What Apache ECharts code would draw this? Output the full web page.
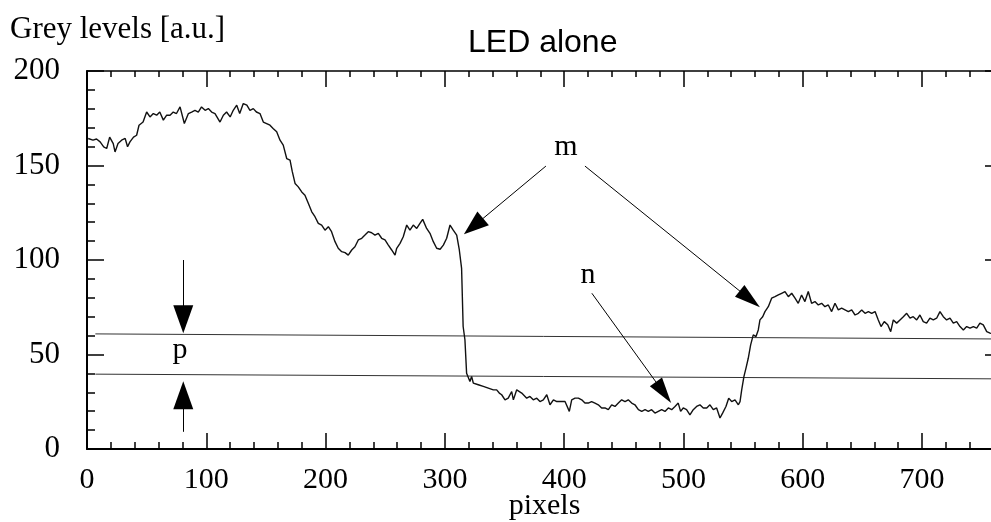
<!DOCTYPE html>
<html>
<head>
<meta charset="utf-8">
<script src="https://cdn.jsdelivr.net/npm/echarts@6/dist/echarts.min.js"></script>
<style>
  html, body { margin: 0; padding: 0; background: #fff; }
  #chart { width: 991px; height: 522px; }
</style>
</head>
<body>
<div id="chart"></div>
<script>
// pixel position along the profile
var pixelPos = [
  1, 5, 8, 11, 14, 16.5, 19, 22, 23.5, 26, 29, 32, 34, 36, 39, 41.6, 43.6, 47, 50, 52.8,
  55.6, 58.4, 61, 64, 66.8, 69.6, 72.3, 75, 78, 81.6, 85, 87.7, 90.5, 93.3, 96, 99, 101.7, 104.5, 107.3, 111.5,
  114.3, 117, 120, 122.6, 125.5, 128, 131, 134, 136.6, 139.4, 142, 145, 147.8, 150.6, 153.4, 156, 159, 161.8, 164.5, 167.4,
  170.2, 172, 174.4, 177.1, 180, 182.7, 185.5, 188.4, 191.1, 193.9, 196.7, 199.5, 202.3, 205, 207.9, 210.6, 213.5, 216.3, 219, 221.9,
  224.6, 227.4, 230.3, 233, 235.8, 238.6, 241.4, 244.2, 247, 249.8, 252.6, 255.4, 258.2, 259.6, 262.4, 265.1, 268, 270.7, 273.5, 276.4,
  279.1, 281.4, 284.7, 287.5, 290.3, 293.1, 296, 298.7, 301.5, 304.3, 307, 309.9, 312.1, 314, 315.3, 316.8, 318.2, 319.6, 321, 322.4,
  323.8, 328, 332.2, 336.4, 340.6, 343.4, 345.6, 347.6, 350.4, 353.1, 356, 357.4, 360.2, 364.4, 368.6, 371.3, 374.1, 377, 379.7, 382.5,
  385.4, 388.1, 391, 393.8, 396.5, 400.7, 404.3, 406.3, 409.1, 411.9, 414.7, 417.4, 420.2, 423, 425.8, 428.6, 431.4, 434.2, 437, 439.8,
  442.6, 445.4, 448.2, 451, 453.7, 456.6, 459.3, 462.2, 465, 467.8, 470.5, 473.3, 476.1, 478.9, 481.7, 484.5, 487.3, 490.1, 492.9, 495.6,
  497.6, 499.8, 502.6, 505.4, 508.2, 511, 513.8, 516.6, 519.5, 522.2, 525, 527.8, 530.6, 532.8, 535.6, 537.9, 540.4, 543.2, 546, 547.4,
  548.8, 550.7, 552.4, 554.3, 556.3, 558.5, 560.8, 562.7, 564.1, 566.4, 568.3, 571.1, 573.9, 576.7, 579.5, 582.3, 585.1, 587.9, 590.7, 593.5,
  596.2, 599, 601.8, 604.6, 607.4, 610.2, 613, 615.8, 618.6, 621.4, 624.2, 627, 629.8, 632.6, 635.4, 638.2, 641, 643.8, 646.6, 649.4,
  652.2, 655, 657.8, 660.6, 663.3, 665.6, 668.3, 671.2, 673.7, 675.9, 678.7, 681.5, 684.3, 687.1, 689.9, 692.6, 695.5, 698.2, 701, 703.8,
  706.6, 709.4, 712.2, 715, 717.8, 720.6, 723.4, 726.2, 729, 731.8, 734.6, 737.4, 740.2, 743, 745.8, 748.5, 751.3, 754.2, 757, 762
]
// grey level at each position
var greyLevel = [
  164.3, 163.4, 164, 162.5, 159.9, 159, 165, 161.6, 157.2, 161.6, 163.4, 164.3, 159.9, 162.5, 165, 166, 171.3, 173, 178.3, 175.7,
  177.5, 176.6, 178.3, 174, 176.6, 176.6, 178.3, 177.5, 181, 172.2, 177.5, 178.3, 179.2, 178.3, 181, 179.2, 180.1, 178.3, 177.5, 173,
  176.6, 178.3, 175.7, 179.2, 181.9, 177.5, 182.8, 181.9, 179.2, 180.1, 178.3, 177.5, 173, 172.2, 171.3, 169.6, 167.8, 163.4, 160.8, 153.7,
  152.8, 147, 140.5, 138.7, 136, 134.3, 130, 125.5, 122.9, 119.4, 118.5, 115.8, 117.6, 115, 109.7, 106.2, 104.4, 103.9, 102.6, 105.3,
  107, 110.6, 111.5, 113.2, 115, 114.4, 113.2, 114.1, 111.5, 110.6, 107.9, 105.3, 102.6, 106.2, 108.8, 112.3, 118.5, 115.8, 118.5, 116.7,
  119.4, 121.5, 116.7, 114.1, 109.7, 106.2, 105.7, 107.9, 111.5, 118.5, 115.8, 113.2, 105.3, 95.6, 64.8, 57.8, 40.1, 39.2, 35.7, 38.4,
  34.9, 34, 33.1, 32.2, 31.3, 31.3, 29.6, 28.7, 26, 26.9, 30.4, 26, 31.3, 29.6, 26.9, 27.8, 26, 26.9, 25.1, 26,
  28.7, 23.4, 26, 25.1, 25.1, 25.1, 19.9, 26, 26.9, 26.9, 26, 24.3, 24.3, 25.1, 24.3, 23.4, 21.7, 21.7, 20.8, 23.4,
  22.5, 24.3, 26, 25.1, 26, 24.3, 23.4, 20.8, 19.9, 20.8, 19.9, 20.8, 19, 19.9, 20.8, 19.9, 21.7, 20.8, 22.5, 24.3,
  19.9, 21.7, 20.8, 18.1, 20.8, 22.5, 23.4, 21.7, 21.7, 23.4, 20.8, 21.7, 16.4, 19, 22.5, 26.9, 25.1, 26, 23.4, 25.1,
  31.3, 38.4, 42.8, 48, 55.1, 60.4, 59.5, 63, 68.3, 70, 72.7, 75.3, 79.8, 80.6, 81.5, 82.4, 83.3, 80.6, 82.4, 79.8,
  77.1, 81.5, 78, 83.3, 77.1, 78, 76.2, 77.1, 75.3, 76.2, 72.7, 77.1, 73.6, 74.5, 73.6, 72.7, 73.6, 70.9, 71.8, 73.6,
  71.8, 72.7, 71.8, 72.7, 68.3, 64.8, 67.4, 65.7, 62.1, 68.3, 66.6, 68.3, 70, 71.8, 69.2, 70, 68.3, 70.9, 67.4, 66.6,
  69.2, 68.3, 69.2, 72.7, 70, 68.3, 69.2, 66.6, 67.4, 64.8, 63, 64.8, 63.9, 64.8, 63.9, 66.6, 65.7, 62.1, 61.3, 60.5
]
// the two reference levels (p)
var levelX = [7, 767]
var upperLevel = [60.9, 58.2]
var lowerLevel = [39.6, 37.1]

var serif = "'Liberation Serif', 'Times New Roman', serif"
var sans = "'Liberation Sans', Arial, sans-serif"

var myChart = echarts.init(document.getElementById('chart'))

function pairs(xs, ys) {
  return xs.map(function (x, i) { return [x, ys[i]] })
}

// arrow: plain start, filled triangle at the end
function arrow(from, to, size) {
  return [
    { coord: from, symbol: 'none' },
    { coord: to, symbol: 'triangle', symbolSize: size }
  ]
}

function tickAxis(pos, interval, len, showLine, extra) {
  var ax = {
    type: 'value',
    position: pos,
    min: 0,
    max: 767,
    interval: interval,
    axisLine: { show: showLine, onZero: false, lineStyle: { color: '#000', width: pos === 'top' ? 1.5 : 2 } },
    axisTick: { show: true, inside: true, length: len, lineStyle: { color: '#000', width: 1.5 } },
    axisLabel: { show: false },
    splitLine: { show: false }
  }
  return Object.assign(ax, extra || {})
}

function valueAxis(pos, showLabel) {
  return {
    type: 'value',
    position: pos,
    min: 0,
    max: 200,
    interval: 50,
    axisLine: { show: true, onZero: false, lineStyle: { color: '#000', width: 2 } },
    axisTick: { inside: true, length: 17, lineStyle: { color: '#000', width: 1.5 } },
    minorTick: { show: true, splitNumber: 5, length: 8, lineStyle: { color: '#000', width: 1.5 } },
    axisLabel: { show: showLabel, margin: 27, fontFamily: serif, fontSize: 31, color: '#000' },
    splitLine: { show: false }
  }
}

var option = {
  backgroundColor: '#fff',
  animation: false,
  title: [
    {
      text: 'LED alone',
      left: 463,
      top: 22,
      textStyle: { fontFamily: sans, fontSize: 32, fontWeight: 'normal', color: '#000' }
    },
    {
      text: 'Grey levels [a.u.]',
      left: 5,
      top: 9,
      textStyle: { fontFamily: serif, fontSize: 31, fontWeight: 'normal', color: '#000' }
    }
  ],
  grid: { left: 87, right: -11, top: 71, bottom: 73, outerBoundsMode: 'none', containLabel: false },
  xAxis: [
    tickAxis('bottom', 100, 16, true, {
      name: 'pixels',
      nameLocation: 'middle',
      nameGap: 42,
      nameMoveOverlap: false,
      nameTextStyle: { fontFamily: serif, fontSize: 30, color: '#000' },
      axisLabel: { show: true, margin: 16, showMaxLabel: false, fontFamily: serif, fontSize: 30, color: '#000' }
    }),
    tickAxis('bottom', 20, 7, false),
    tickAxis('top', 100, 16, true),
    tickAxis('top', 20, 6, false)
  ],
  yAxis: [
    valueAxis('left', true),
    valueAxis('right', false)
  ],
  series: [
    {
      name: 'upper level',
      type: 'line',
      data: pairs(levelX, upperLevel),
      showSymbol: false,
      lineStyle: { color: '#333', width: 1 }
    },
    {
      name: 'lower level',
      type: 'line',
      data: pairs(levelX, lowerLevel),
      showSymbol: false,
      lineStyle: { color: '#333', width: 1 }
    },
    {
      name: 'grey level',
      type: 'line',
      data: pairs(pixelPos, greyLevel),
      showSymbol: false,
      lineStyle: { color: '#111', width: 1.4 },
      markLine: {
        silent: true,
        label: { show: false },
        lineStyle: { color: '#000', width: 1, type: 'solid' },
        data: [
          arrow([384.7, 149.7], [324, 117.8], [18, 25]),
          arrow([417.4, 149.7], [555.6, 79.3], [15, 26]),
          arrow([423.2, 82.4], [483.3, 29.9], [15, 26]),
          arrow([80.7, 100], [80.7, 68.6], [20, 28]),
          arrow([80.7, 9.1], [80.7, 28.4], [20, 28])
        ]
      },
      markPoint: {
        silent: true,
        symbol: 'circle',
        symbolSize: 0,
        label: {
          show: true,
          position: 'inside',
          formatter: '{b}',
          fontFamily: serif,
          fontSize: 30,
          color: '#000'
        },
        data: [
          { name: 'm', coord: [401.5, 159.5] },
          { name: 'n', coord: [420, 92] },
          { name: 'p', coord: [78, 52.5] }
        ]
      }
    }
  ]
}

myChart.setOption(option)

window.onresize = function () {
  myChart.resize()
}
</script>
</body>
</html>
